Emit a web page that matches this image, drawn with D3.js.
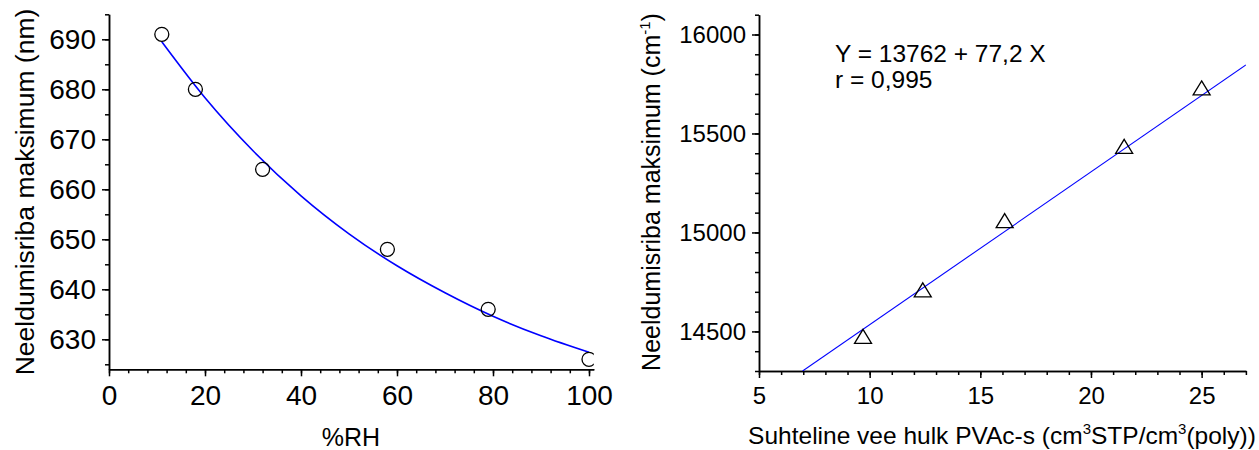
<!DOCTYPE html>
<html>
<head>
<meta charset="utf-8">
<script src="https://cdn.jsdelivr.net/npm/d3@7"></script>
<style>
  html, body { margin: 0; padding: 0; background: #fff; }
  svg { display: block; font-family: Arial, "Liberation Sans", sans-serif; }
  .axis path, .axis line { stroke: #000; stroke-width: 1.5; }
  .axis text { fill: #000; }
</style>
</head>
<body>
<svg id="chart" width="1259" height="450"></svg>
<script>
// left panel: absorption maximum vs relative humidity
const rhX   = [11, 18, 32, 58, 79, 100];
const rhY   = [691, 680, 664, 648, 636, 626];
// fitted decay curve
const rhFitX = [11, 20, 30, 40, 50, 60, 70, 80, 90, 100];
const rhFitY = [689.5, 678.3, 667.7, 658.7, 651.1, 644.7, 639.3, 634.6, 630.7, 627.4];
const leftXTicks = [0, 20, 40, 60, 80, 100];
const leftYTicks = [630, 640, 650, 660, 670, 680, 690];

// right panel: absorption maximum (cm-1) vs water uptake
const wX = [9.7, 12.4, 16.1, 21.5, 25.0];
const wY = [14475, 14710, 15060, 15435, 15730];
const wFitX = [6.97, 27];
const wFitY = [14300, 15846];
const rightXTicks = [5, 10, 15, 20, 25];
const rightYTicks = [14500, 15000, 15500, 16000];
const fitText = ['Y = 13762 + 77,2 X', 'r = 0,995'];

const svg = d3.select('#chart');
const FONT = 'Arial, "Liberation Sans", sans-serif';

function drawAxes(x, y, xTicks, yTicks, xMinorStep, yMinorStep, fontSize) {
    const [x0, x1] = x.domain(), [y0, y1] = y.domain();
    const xMinor = d3.range(Math.ceil(x0 / xMinorStep) * xMinorStep, x1 + 1e-9, xMinorStep);
    const yMinor = d3.range(Math.ceil(y0 / yMinorStep) * yMinorStep, y1 + 1e-9, yMinorStep);
    const yb = y.range()[0], xl = x.range()[0];

    svg.append('g').attr('class', 'axis')
        .attr('transform', `translate(0,${yb})`)
        .call(d3.axisBottom(x).tickValues(xMinor).tickSize(4).tickFormat('').tickSizeOuter(0));
    svg.append('g').attr('class', 'axis')
        .attr('transform', `translate(0,${yb})`)
        .call(d3.axisBottom(x).tickValues(xTicks).tickSize(7).tickPadding(9).tickSizeOuter(0))
        .call(g => g.selectAll('text').attr('font-size', fontSize).attr('font-family', FONT));

    svg.append('g').attr('class', 'axis')
        .attr('transform', `translate(${xl},0)`)
        .call(d3.axisLeft(y).tickValues(yMinor).tickSize(4).tickFormat('').tickSizeOuter(0));
    svg.append('g').attr('class', 'axis')
        .attr('transform', `translate(${xl},0)`)
        .call(d3.axisLeft(y).tickValues(yTicks).tickSize(7).tickPadding(6).tickSizeOuter(0).tickFormat(d3.format('d')))
        .call(g => g.selectAll('text').attr('font-size', fontSize).attr('font-family', FONT));
}

// ---- left panel ----
const xL = d3.scaleLinear().domain([0, 101]).range([109, 593.8]);
const yL = d3.scaleLinear().domain([624, 695]).range([369.3, 14.3]);
drawAxes(xL, yL, leftXTicks, leftYTicks, 4, 5, 28);

svg.append('defs').append('clipPath').attr('id', 'clipL')
    .append('rect').attr('x', 109).attr('y', 0).attr('width', 593.8 - 109).attr('height', 369.3);

svg.append('path')
    .datum(rhFitX.map((v, i) => [v, rhFitY[i]]))
    .attr('fill', 'none').attr('stroke', '#0000ff').attr('stroke-width', 1.6)
    .attr('d', d3.line().x(d => xL(d[0])).y(d => yL(d[1])).curve(d3.curveMonotoneX));

svg.append('g').attr('clip-path', 'url(#clipL)')
    .selectAll('circle')
    .data(rhX.map((v, i) => [v, rhY[i]]))
    .join('circle')
    .attr('cx', d => xL(d[0])).attr('cy', d => yL(d[1]))
    .attr('r', 7).attr('fill', 'none').attr('stroke', '#000').attr('stroke-width', 1.3);

svg.append('text')
    .attr('transform', 'translate(34,192) rotate(-90)')
    .attr('text-anchor', 'middle').attr('font-size', 26.5)
    .text('Neeldumisriba maksimum (nm)');
svg.append('text')
    .attr('x', 351).attr('y', 446)
    .attr('text-anchor', 'middle').attr('font-size', 25)
    .text('%RH');

// ---- right panel ----
const xR = d3.scaleLinear().domain([5, 27]).range([759, 1245.9]);
const yR = d3.scaleLinear().domain([14300, 16100]).range([371, 14.7]);
drawAxes(xR, yR, rightXTicks, rightYTicks, 1, 100, 24);

svg.select('defs').append('clipPath').attr('id', 'clipR')
    .append('rect').attr('x', 759).attr('y', 14.7).attr('width', 1245.9 - 759).attr('height', 371 - 14.7);

svg.append('path')
    .datum(wFitX.map((v, i) => [v, wFitY[i]]))
    .attr('clip-path', 'url(#clipR)')
    .attr('fill', 'none').attr('stroke', '#0000ff').attr('stroke-width', 1.1)
    .attr('d', d3.line().x(d => xR(d[0])).y(d => yR(d[1])));

const tri = 'M0,-7L8.5,7L-8.5,7Z';
svg.selectAll('.tri')
    .data(wX.map((v, i) => [v, wY[i]]))
    .join('path')
    .attr('class', 'tri')
    .attr('transform', d => `translate(${xR(d[0])},${yR(d[1])})`)
    .attr('d', tri)
    .attr('fill', 'none').attr('stroke', '#000').attr('stroke-width', 1.3);

svg.selectAll('.fit')
    .data(fitText)
    .join('text')
    .attr('class', 'fit')
    .attr('x', 835).attr('y', (d, i) => 62 + i * 25.5)
    .attr('font-size', 24.5)
    .text(d => d);

const yTitle = svg.append('text')
    .attr('transform', 'translate(660,192) rotate(-90)')
    .attr('text-anchor', 'middle').attr('font-size', 25);
yTitle.append('tspan').text('Neeldumisriba maksimum (cm');
yTitle.append('tspan').attr('font-size', 15).attr('dy', -10).text('-1');
yTitle.append('tspan').attr('dy', 10).text(')');

const xTitle = svg.append('text')
    .attr('x', 1002).attr('y', 444)
    .attr('text-anchor', 'middle').attr('font-size', 24.5);
xTitle.append('tspan').text('Suhteline vee hulk PVAc-s (cm');
xTitle.append('tspan').attr('font-size', 15).attr('dy', -10).text('3');
xTitle.append('tspan').attr('dy', 10).text('STP/cm');
xTitle.append('tspan').attr('font-size', 15).attr('dy', -10).text('3');
xTitle.append('tspan').attr('dy', 10).text('(poly))');
</script>
</body>
</html>
